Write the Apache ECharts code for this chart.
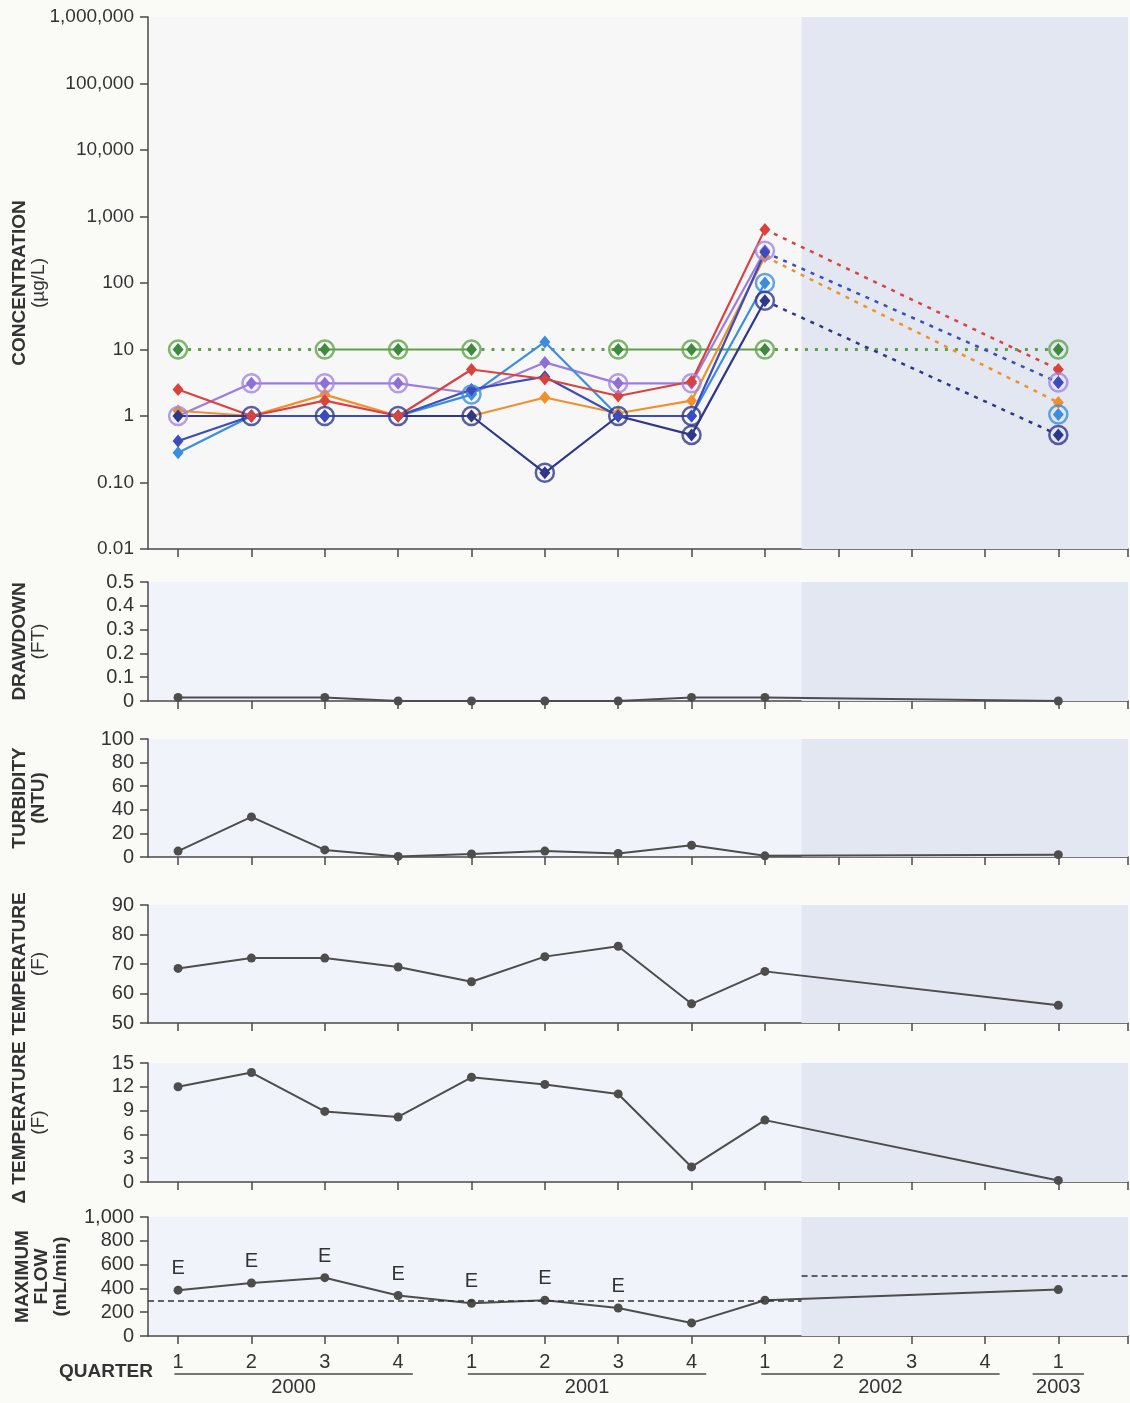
<!DOCTYPE html>
<html>
<head>
<meta charset="utf-8">
<script src="https://cdn.jsdelivr.net/npm/echarts@6/dist/echarts.min.js"></script>
<style>
  html, body { margin: 0; padding: 0; background: #fafaf7; }
  #chart { width: 1130px; height: 1403px; }
</style>
</head>
<body>
<div id="chart"></div>
<script>
// quarters 2000 Q1 .. 2003 Q1 (index 1..13), 2002 Q2-Q4 not sampled
const quarters = [1, 2, 3, 4, 5, 6, 7, 8, 9, 10, 11, 12, 13]
const quarterLabels = ["1", "2", "3", "4", "1", "2", "3", "4", "1", "2", "3", "4", "1"]
const years = ["2000", "2001", "2002", "2003"]
const yearFirstQuarter = [1, 5, 9, 13]
const yearLastQuarter = [4, 8, 12, 13]

const concTickLabels = ["0.01", "0.10", "1", "10", "100", "1,000", "10,000", "100,000", "1,000,000"]

// concentration (ug/L), null = not sampled
const concGreen = [10, null, 10, 10, 10, null, 10, 10, 10, null, null, null, 10]
const concRed = [2.5, 1.0, 1.7, 1.0, 5.0, 3.6, 2.0, 3.3, 640, null, null, null, 5.0]
const concOrange = [1.2, 1.0, 2.1, 1.0, 1.0, 1.9, 1.1, 1.7, 250, null, null, null, 1.6]
const concPurple = [1.0, 3.1, 3.1, 3.1, 2.2, 6.4, 3.1, 3.1, 305, null, null, null, 3.2]
const concLightBlue = [0.28, 1.0, 1.0, 1.0, 2.1, 13, 1.0, 1.0, 100, null, null, null, 1.05]
const concIndigo = [0.42, 1.0, 1.0, 1.0, 2.5, 3.9, 1.0, 1.0, 290, null, null, null, 3.2]
const concNavy = [1.0, 1.0, 1.0, 1.0, 1.0, 0.14, 1.0, 0.52, 54, null, null, null, 0.52]

// 1 = circled (non-detect) result
const ndGreen = [1, 0, 1, 1, 1, 0, 1, 1, 1, 0, 0, 0, 1]
const ndRed = [0, 0, 0, 0, 0, 0, 0, 0, 0, 0, 0, 0, 0]
const ndOrange = [0, 0, 0, 0, 0, 0, 0, 0, 0, 0, 0, 0, 0]
const ndPurple = [1, 1, 1, 1, 0, 0, 1, 1, 1, 0, 0, 0, 1]
const ndLightBlue = [0, 0, 0, 0, 1, 0, 0, 0, 1, 0, 0, 0, 1]
const ndIndigo = [0, 0, 0, 0, 0, 0, 0, 1, 0, 0, 0, 0, 0]
const ndNavy = [0, 1, 1, 1, 1, 1, 1, 1, 1, 0, 0, 0, 1]

const drawdown = [0.015, null, 0.015, 0, 0, 0, 0, 0.015, 0.015, null, null, null, 0]
const turbidity = [5, 34, 6, 0.5, 2.5, 5, 3, 10, 1, null, null, null, 2]
const temperature = [68.5, 72, 72, 69, 64, 72.5, 76, 56.5, 67.5, null, null, null, 56]
const deltaTemp = [12, 13.8, 8.9, 8.2, 13.2, 12.3, 11.1, 1.9, 7.8, null, null, null, 0.2]
const maxFlow = [385, 445, 490, 340, 275, 300, 235, 110, 300, null, null, null, 390]
const flowEstimated = [1, 1, 1, 1, 1, 1, 1, 0, 0, 0, 0, 0, 0]
const flowLimitEarly = 300
const flowLimitLate = 510

const FONT = '"Liberation Sans", Arial, Helvetica, sans-serif'
const INK = "#333333"
const AXIS = "#4a4a4a"
const LINE = "#4d4d4d"
const SHADE = "#e3e7f1"
const SHADE_START = 9.5
const X_MIN = 0.59
const X_MAX = 13.95
const xTickValues = quarters.concat([X_MAX])

const panels = [
  { top: 17, height: 532, bg: "#f7f7f8" },
  { top: 582, height: 119, bg: "#f0f3f9" },
  { top: 739, height: 118, bg: "#f0f3f9" },
  { top: 905, height: 118, bg: "#f0f3f9" },
  { top: 1063, height: 119, bg: "#f0f3f9" },
  { top: 1217, height: 119, bg: "#f0f3f9" },
]
const last = panels.length - 1

const concDefs = [
  { values: concGreen, nd: ndGreen, line: "#5f9f47", mark: "#3f8b3d", ring: "#5fa548", dotted: true, dash: [3, 7], dw: 3 },
  { values: concPurple, nd: ndPurple, line: "#9a7ddf", mark: "#8d6fd6", ring: "#a184e3", dotted: false },
  { values: concLightBlue, nd: ndLightBlue, line: "#3b8de0", mark: "#3b8de0", ring: "#3b8de0", dotted: false },
  { values: concOrange, nd: ndOrange, line: "#f0902c", mark: "#f0902c", ring: "#f0902c", dotted: true, dash: [4, 6], dw: 2.5 },
  { values: concNavy, nd: ndNavy, line: "#2f3789", mark: "#2f3789", ring: "#2f3789", dotted: true, dash: [4, 6], dw: 2.5 },
  { values: concIndigo, nd: ndIndigo, line: "#3c4cbc", mark: "#3c4cbc", ring: "#2f3789", dotted: true, dash: [4, 6], dw: 2.5 },
  { values: concRed, nd: ndRed, line: "#d9433e", mark: "#d9433e", ring: "#d9433e", dotted: true, dash: [4, 6], dw: 2.5 },
]

function gapSegments(values) {
  // dotted pieces only where quarters were skipped
  const pts = []
  quarters.forEach((q, i) => { if (values[i] != null) pts.push([q, values[i]]) })
  const out = []
  for (let k = 1; k < pts.length; k++) {
    if (pts[k][0] - pts[k - 1][0] > 1) {
      out.push(pts[k - 1], pts[k], [pts[k][0], "-"])
    }
  }
  return out
}

function shadeArea() {
  return {
    silent: true,
    itemStyle: { color: SHADE },
    data: [[{ xAxis: SHADE_START }, { xAxis: X_MAX }]],
  }
}

function axisName(lines, gap, plain) {
  return {
    name: lines.map((t, i) => (plain && i === lines.length - 1 ? "{n|" + t + "}" : "{b|" + t + "}")).join("\n"),
    nameLocation: "middle",
    nameRotate: 90,
    nameGap: gap,
    nameMoveOverlap: false,
    nameTextStyle: {
      align: "center",
      rich: {
        b: { fontFamily: FONT, fontWeight: "bold", fontSize: 19, lineHeight: 19, color: INK, align: "center" },
        n: { fontFamily: FONT, fontWeight: "normal", fontSize: 19, lineHeight: 19, color: INK, align: "center" },
      },
    },
  }
}

const grids = panels.map((p) => ({
  left: 148, right: 2, top: p.top, height: p.height,
  outerBoundsMode: "none", containLabel: false,
  show: true, backgroundColor: p.bg, borderWidth: 0,
}))

const xAxes = panels.map((p, i) => ({
  type: "value", gridIndex: i, min: X_MIN, max: X_MAX,
  axisLine: { show: true, onZero: false, lineStyle: { color: AXIS, width: 1.5 } },
  axisTick: { show: true, length: 8, customValues: xTickValues, lineStyle: { color: AXIS, width: 1.5 } },
  axisLabel: i === last
    ? { show: true, customValues: quarters, formatter: (v) => quarterLabels[Math.round(v) - 1], margin: 16, fontSize: 20, color: INK, fontFamily: FONT }
    : { show: false },
  splitLine: { show: false },
}))

const yBase = {
  axisLine: { show: true, onZero: false, lineStyle: { color: AXIS, width: 1.5 } },
  axisTick: { show: true, length: 8, lineStyle: { color: AXIS, width: 1.5 } },
  axisLabel: { fontSize: 20, color: INK, fontFamily: FONT, margin: 14 },
  splitLine: { show: false },
}

const yAxes = [
  Object.assign({}, yBase, axisName(["CONCENTRATION", "(\u00b5g/L)"], 100, true), {
    type: "log", gridIndex: 0, min: 0.01, max: 1000000, logBase: 10,
    axisLabel: Object.assign({}, yBase.axisLabel, { fontSize: 19, formatter: (v) => concTickLabels[Math.round(Math.log10(v)) + 2] }),
  }),
  Object.assign({}, yBase, axisName(["DRAWDOWN", "(FT)"], 100, true), { type: "value", gridIndex: 1, min: 0, max: 0.5, interval: 0.1 }),
  Object.assign({}, yBase, axisName(["TURBIDITY", "(NTU)"], 100, false), { type: "value", gridIndex: 2, min: 0, max: 100, interval: 20 }),
  Object.assign({}, yBase, axisName(["TEMPERATURE", "(F)"], 100, true), { type: "value", gridIndex: 3, min: 50, max: 90, interval: 10 }),
  Object.assign({}, yBase, axisName(["\u0394 TEMPERATURE", "(F)"], 100, true), { type: "value", gridIndex: 4, min: 0, max: 15, interval: 3 }),
  Object.assign({}, yBase, axisName(["MAXIMUM", "FLOW", "(mL/min)"], 78, false), {
    type: "value", gridIndex: 5, min: 0, max: 1000, interval: 200,
    axisLabel: Object.assign({}, yBase.axisLabel, { formatter: (v) => v.toLocaleString("en-US") }),
  }),
]

const series = []

// concentration panel
concDefs.forEach((d, n) => {
  if (d.dotted) {
    series.push({
      type: "line", xAxisIndex: 0, yAxisIndex: 0, silent: true,
      data: gapSegments(d.values), connectNulls: false, showSymbol: false,
      lineStyle: { color: d.line, width: d.dw, type: d.dash },
      z: 2,
    })
  }
  series.push({
    type: "line", xAxisIndex: 0, yAxisIndex: 0, silent: true,
    data: quarters.map((q, i) => [q, d.values[i] == null ? "-" : d.values[i]]),
    connectNulls: false,
    symbol: "diamond", symbolSize: [11, 13],
    itemStyle: { color: d.mark },
    lineStyle: { color: d.line, width: 2.2 },
    markArea: n === 0 ? shadeArea() : undefined,
    z: 3,
  })
  series.push({
    type: "scatter", xAxisIndex: 0, yAxisIndex: 0, silent: true,
    data: quarters.map((q, i) => [q, d.values[i]]).filter((p, i) => d.nd[i] && p[1] != null),
    symbol: "circle", symbolSize: 18,
    itemStyle: { color: "rgba(0,0,0,0)", borderColor: d.ring, borderWidth: 2.5 },
    z: 4,
  })
})

// single-line panels
const lowerValues = [drawdown, turbidity, temperature, deltaTemp, maxFlow]
lowerValues.forEach((vals, k) => {
  const g = k + 1
  const s = {
    type: "line", xAxisIndex: g, yAxisIndex: g, silent: true,
    data: quarters.map((q, i) => [q, vals[i]]).filter((p) => p[1] != null),
    symbol: "circle", symbolSize: 9,
    itemStyle: { color: LINE },
    lineStyle: { color: LINE, width: 2 },
    markArea: shadeArea(),
    z: 3,
  }
  if (vals === maxFlow) {
    s.data = quarters
      .map((q, i) => ({ q, v: vals[i], e: flowEstimated[i] }))
      .filter((o) => o.v != null)
      .map((o) => ({
        value: [o.q, o.v],
        label: o.e ? { show: true, formatter: "E", position: "top", distance: 7, fontSize: 20, fontFamily: FONT, color: INK } : { show: false },
      }))
    s.markLine = {
      silent: true, symbol: "none", label: { show: false },
      lineStyle: { color: "#333", type: [6, 4], width: 1.5 },
      data: [
        [{ coord: [X_MIN, flowLimitEarly] }, { coord: [SHADE_START, flowLimitEarly] }],
        [{ coord: [SHADE_START, flowLimitLate] }, { coord: [X_MAX, flowLimitLate] }],
      ],
    }
  }
  series.push(s)
})

const chart = echarts.init(document.getElementById("chart"))
chart.setOption({
  animation: false,
  backgroundColor: "#fafaf7",
  grid: grids,
  xAxis: xAxes,
  yAxis: yAxes,
  series: series,
})

// quarter caption, year underlines and year labels
const bottom = panels[last].top + panels[last].height
const graphics = [{
  type: "text", x: 153, y: bottom + 36,
  style: { text: "QUARTER", font: "bold 19px " + FONT, fill: INK, align: "right", verticalAlign: "middle" },
}]
years.forEach((label, k) => {
  const a = yearFirstQuarter[k]
  const b = yearLastQuarter[k]
  const x1 = chart.convertToPixel({ gridIndex: last }, [a === b ? a - 0.35 : a - 0.05, 0])[0]
  const x2 = chart.convertToPixel({ gridIndex: last }, [a === b ? b + 0.35 : b + 0.2, 0])[0]
  graphics.push({
    type: "line", shape: { x1: x1, y1: bottom + 38, x2: x2, y2: bottom + 38 },
    style: { stroke: AXIS, lineWidth: 1.5 },
  })
  graphics.push({
    type: "text", x: (x1 + x2) / 2, y: bottom + 51,
    style: { text: label, font: "20px " + FONT, fill: INK, align: "center", verticalAlign: "middle" },
  })
})
chart.setOption({ graphic: graphics })
</script>
</body>
</html>
